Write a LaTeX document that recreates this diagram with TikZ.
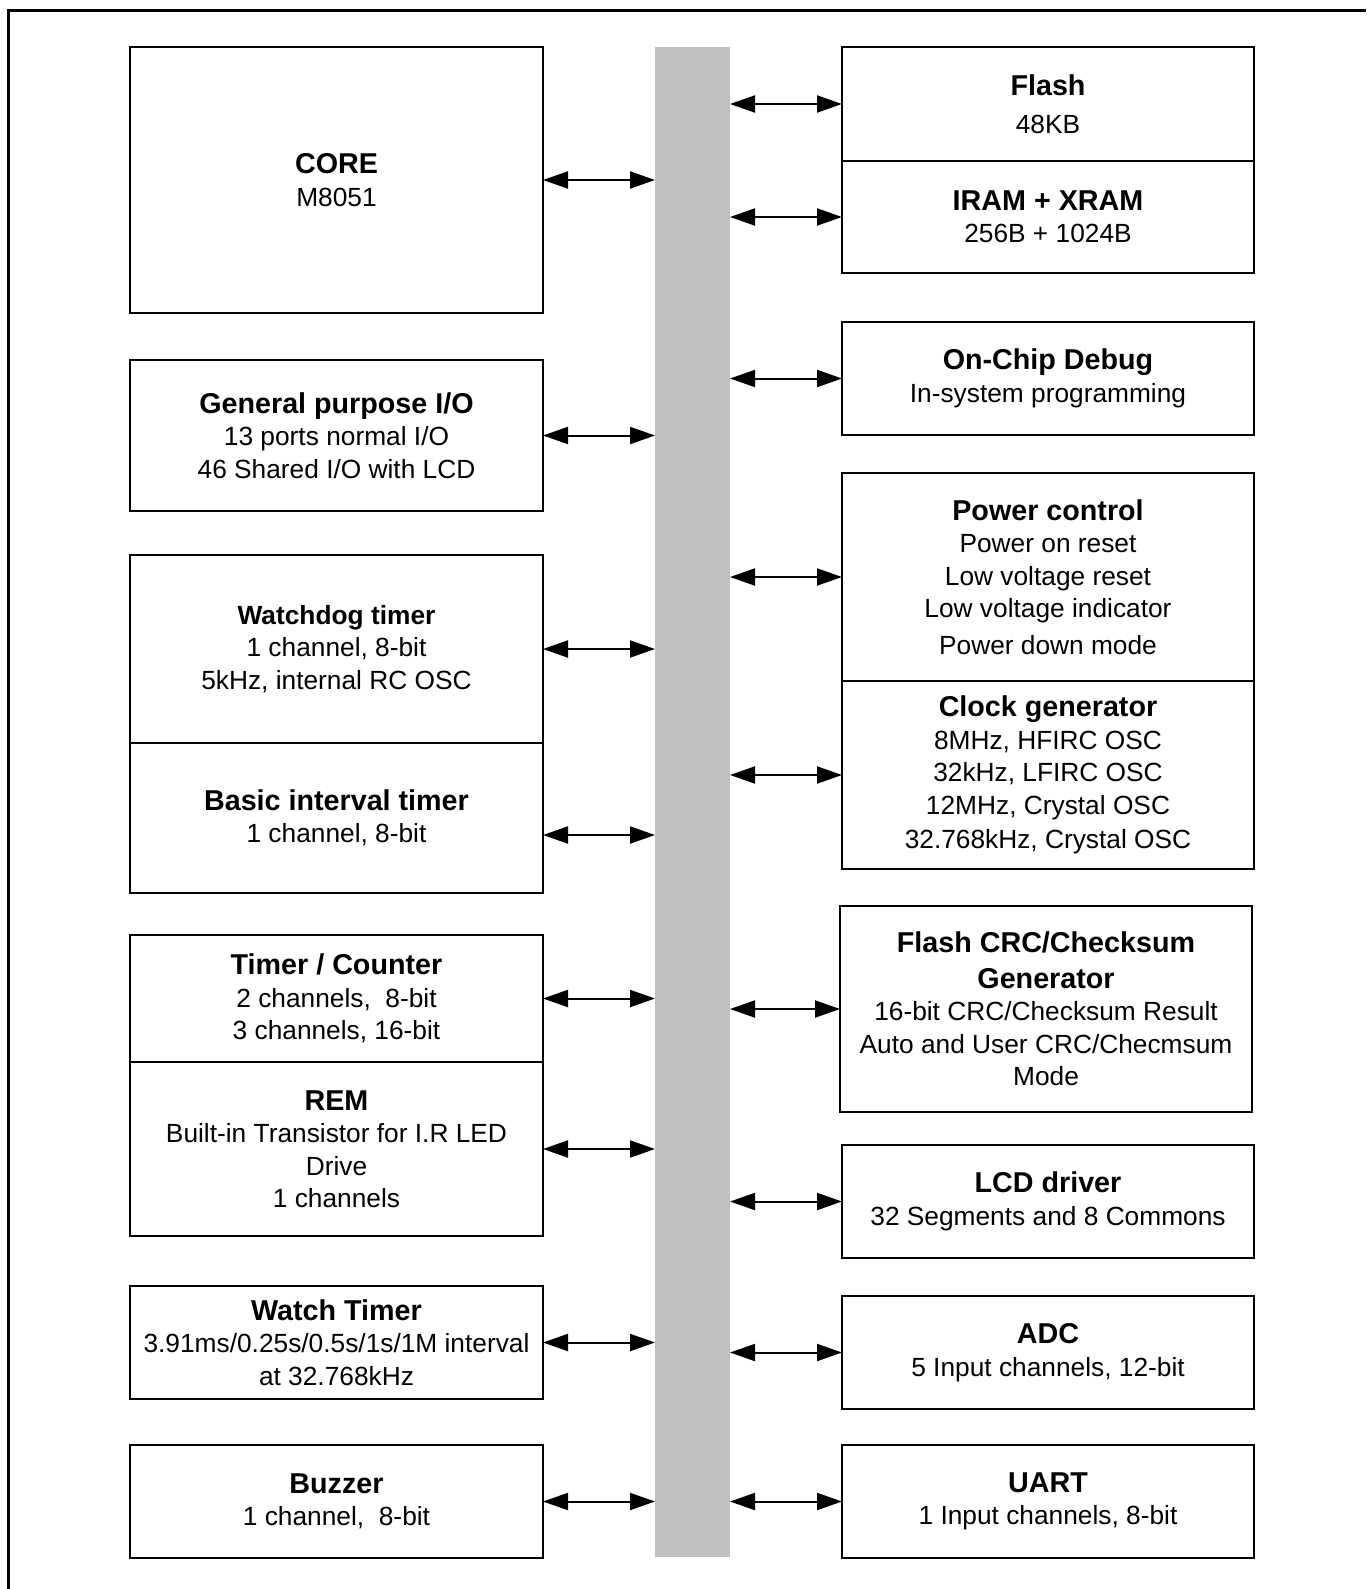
\documentclass[tikz,border=0pt]{standalone}
\usepackage{fontspec}
\setmainfont{Liberation Sans}
\usetikzlibrary{arrows.meta}
\definecolor{busgray}{RGB}{192,192,192}
\newcommand\ttl[1]{{\bfseries\fontsize{28.7}{32.5}\selectfont #1}}
\newcommand\ttlsm[1]{{\bfseries #1}}
\begin{document}
\begin{tikzpicture}[x=1pt,y=-1pt,
  blk/.style={draw, line width=2pt, inner sep=0pt, outer sep=0pt, align=center,
              font=\fontsize{26.3}{32.5}\selectfont},
  lblk/.style={blk, minimum width=413pt},
  rblk/.style={blk, minimum width=412pt},
  busbar/.style={fill=busgray, inner sep=0pt, outer sep=0pt, minimum width=75pt, minimum height=1510pt},
  link/.style={line width=2pt, {Triangle[length=25pt,width=17pt]}-{Triangle[length=25pt,width=17pt]}},
  frameline/.style={line width=3pt}]
\useasboundingbox (0,0) rectangle (1366,1589);
\draw[frameline] (8,1589) -- (8,11) -- (1366,11);

\node[busbar] (bus) at (692.5,802) {};

% left column
\node[lblk, minimum height=266pt] (core) at (336.5,180) {\ttl{CORE}\\M8051};
\node[lblk, minimum height=151pt] (gpio) at (336.5,435.5) {\ttl{General purpose I/O}\\13 ports normal I/O\\46 Shared I/O with LCD};
\node[lblk, minimum height=188pt] (wdt) at (336.5,649) {\ttlsm{Watchdog timer}\\1 channel, 8-bit\\5kHz, internal RC OSC};
\node[lblk, minimum height=150pt] (bit) at (336.5,818) {\ttl{Basic interval timer}\\1 channel, 8-bit};
\node[lblk, minimum height=127pt] (tc) at (336.5,998.5) {\ttl{Timer / Counter}\\2 channels,~ 8-bit\\3 channels, 16-bit};
\node[lblk, minimum height=174pt] (rem) at (336.5,1149) {\ttl{REM}\\Built-in Transistor for I.R LED\\Drive\\1 channels};
\node[lblk, minimum height=113pt] (wt) at (336.5,1342.5) {\ttl{Watch Timer}\\3.91ms/0.25s/0.5s/1s/1M interval\\at 32.768kHz};
\node[lblk, minimum height=113pt] (buz) at (336.5,1501.5) {\ttl{Buzzer}\\1 channel,~ 8-bit};

% right column
\node[rblk, minimum height=114pt] (flash) at (1048,104) {\ttl{Flash}\\[5pt]48KB};
\node[rblk, minimum height=112pt] (iram) at (1048,217) {\ttl{IRAM + XRAM}\\256B + 1024B};
\node[rblk, minimum height=113pt] (ocd) at (1048,378.5) {\ttl{On-Chip Debug}\\In-system programming};
\node[rblk, minimum height=208pt] (pwr) at (1048,577) {\ttl{Power control}\\Power on reset\\Low voltage reset\\Low voltage indicator\\[4pt]Power down mode};
\node[rblk, minimum height=188pt] (clk) at (1048,775) {\ttl{Clock generator}\\8MHz, HFIRC OSC\\32kHz, LFIRC OSC\\12MHz, Crystal OSC\\[2pt]32.768kHz, Crystal OSC};
\node[rblk, minimum height=206pt] (crc) at (1046,1009) {\ttl{Flash CRC/Checksum}\\[3pt]\ttl{Generator}\\16-bit CRC/Checksum Result\\Auto and User CRC/Checmsum\\Mode};
\node[rblk, minimum height=113pt] (lcd) at (1048,1201.5) {\ttl{LCD driver}\\32 Segments and 8 Commons};
\node[rblk, minimum height=113pt] (adc) at (1048,1352.5) {\ttl{ADC}\\5 Input channels, 12-bit};
\node[rblk, minimum height=113pt] (uart) at (1048,1501.5) {\ttl{UART}\\1 Input channels, 8-bit};

% connectors left
\foreach \n in {core,gpio,wdt,tc,rem,wt,buz}
  \draw[link] (\n.east) -- (\n.east -| bus.west);
\coordinate (bitA) at ([yshift=-17pt]bit.east);
\draw[link] (bitA) -- (bitA -| bus.west);

% connectors right
\foreach \n in {flash,iram,ocd,pwr,clk,crc,lcd,adc,uart}
  \draw[link] (\n.west -| bus.east) -- (\n.west);
\end{tikzpicture}
\end{document}
